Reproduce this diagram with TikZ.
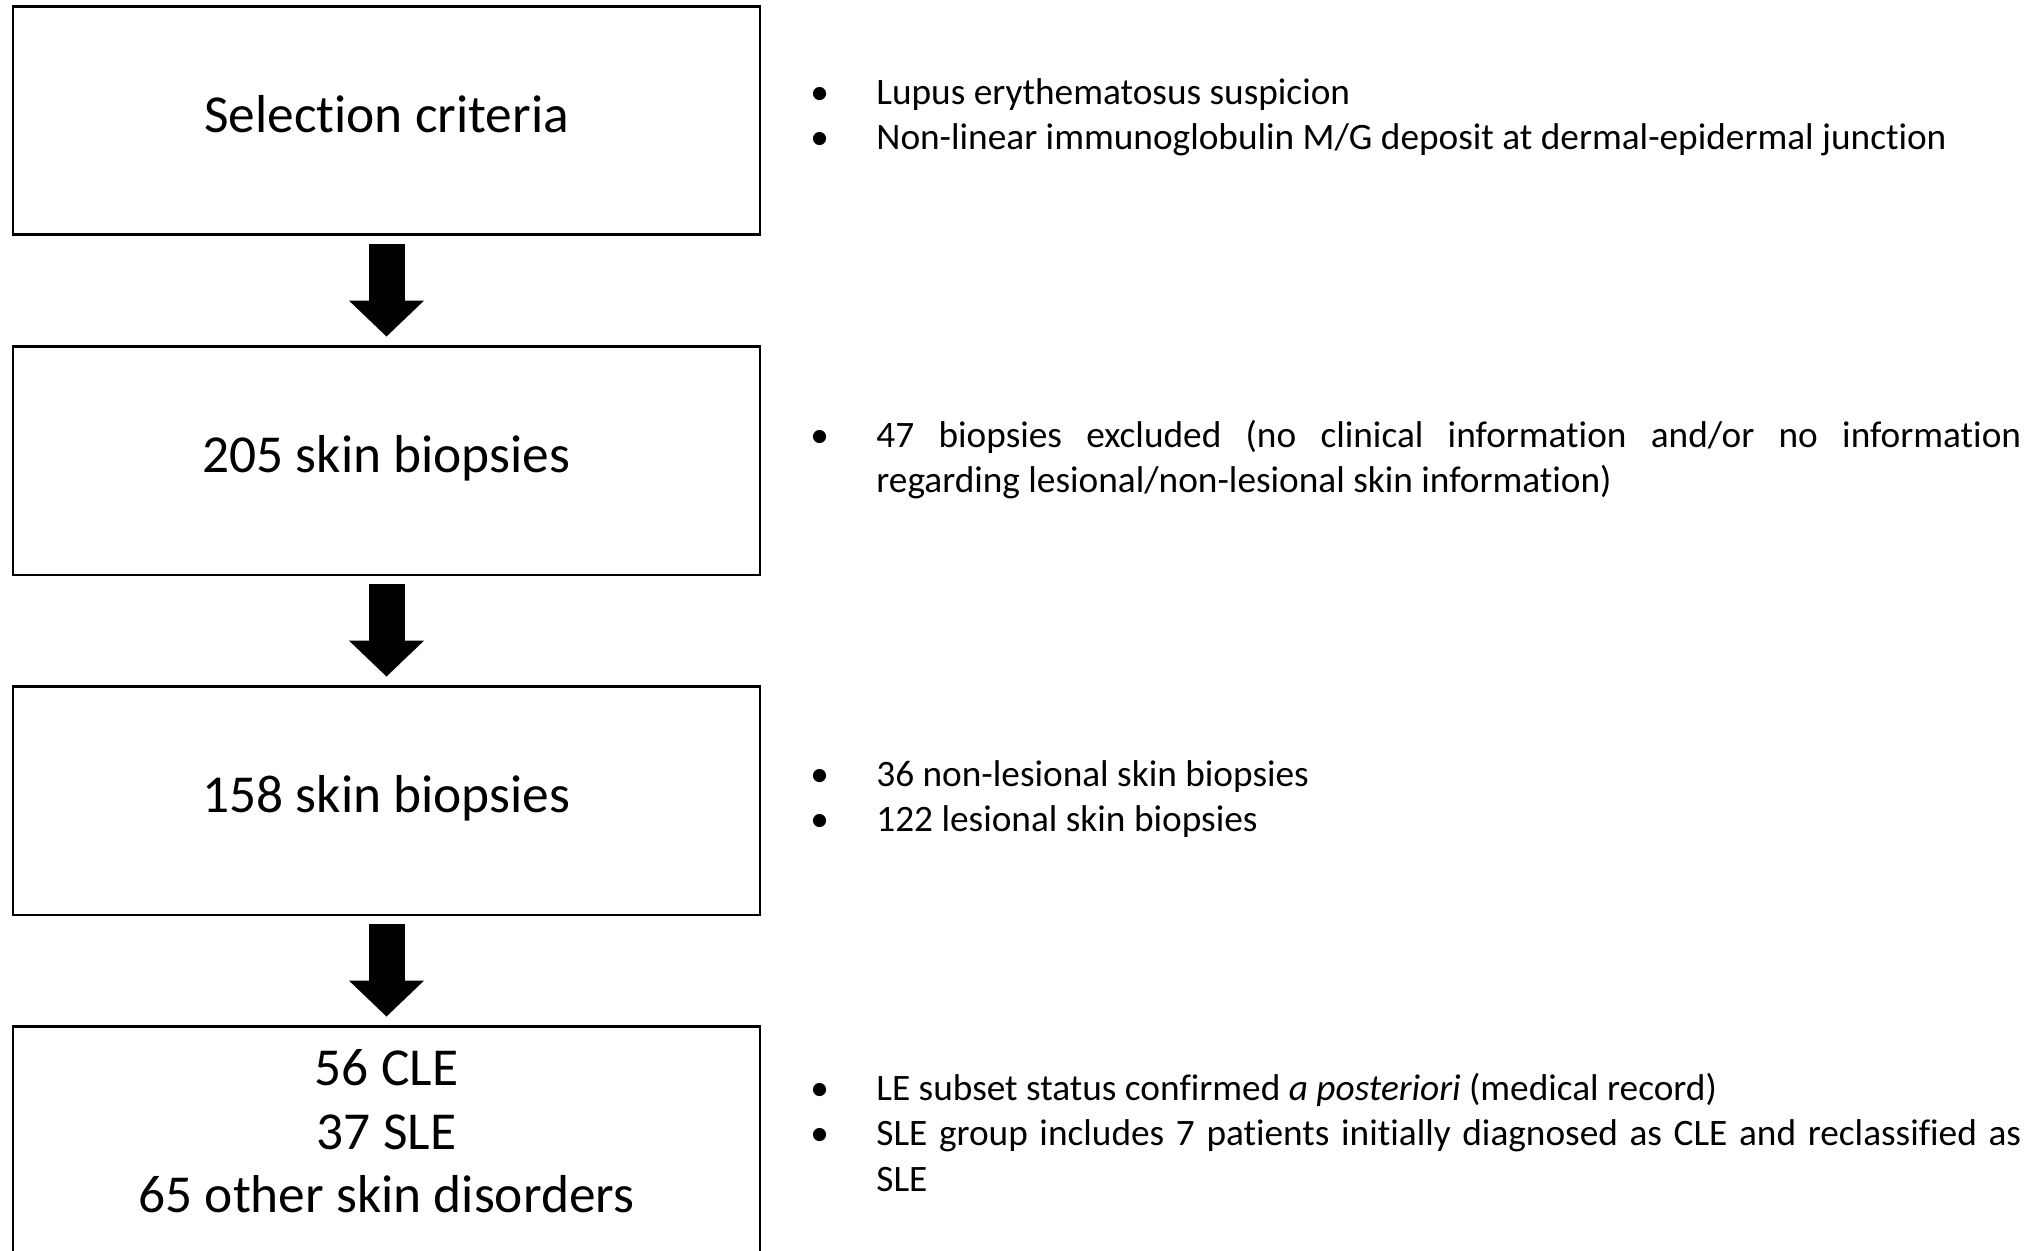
\documentclass[tikz,border=0pt]{standalone}
\usepackage{fontspec}
\setmainfont{Carlito}[Ligatures=NoCommon]
\usepackage{enumitem}
\usetikzlibrary{arrows.meta}

\tikzset{
  box/.style={draw, line width=1.4pt, fill=white, minimum width=373.5pt, minimum height=114.25pt,
    inner sep=0pt, align=center, font=\fontsize{26.7pt}{31.8pt}\selectfont},
  note/.style={anchor=west, inner sep=0pt, text width=605.5pt, align=justify,
    font=\fontsize{18.65pt}{22.7pt}\selectfont},
  fatarrow/.style={line width=18pt, -{Triangle[width=36.5pt, length=18pt]},
    shorten <=4pt, shorten >=4.25pt}
}
\newcommand{\notelist}[1]{\hyphenpenalty=10000\exhyphenpenalty=10000
  \begin{itemize}[leftmargin=33pt, labelsep=0pt, labelwidth=33pt, align=left,
    label=\textbullet, topsep=0pt, partopsep=0pt, itemsep=0pt, parsep=0pt]#1\end{itemize}}

\begin{document}
\begin{tikzpicture}[x=0.5pt,y=0.5pt,yscale=-1,xscale=1]
\useasboundingbox (0,0) rectangle (2035,1251);
\clip (0,0) rectangle (2035,1251);

% Boxes
\node[box, text height=18pt, text depth=6pt] (sel) at (386.5,120.5) {Selection criteria};
\node[box, text height=18pt, text depth=6pt] (bx205) at (386.5,460.75) {205 skin biopsies};
\node[box, text height=18pt, text depth=6pt] (bx158) at (386.5,800.75) {158 skin biopsies};
\node[box, text depth=9.4pt] (groups) at (386.5,1140.75) {56 CLE\\37 SLE\\65 other skin disorders};

% Arrows
\draw[fatarrow] (sel) -- (bx205);
\draw[fatarrow] (bx205) -- (bx158);
\draw[fatarrow] (bx158) -- (groups);

% Notes
\node[note] (notesel) at (810,107.8) {\notelist{
  \item Lupus erythematosus suspicion
  \item Non-linear immunoglobulin M/G deposit at dermal-epidermal junction}};
\node[note] (note205) at (810,450.5) {\notelist{
  \item 47 biopsies excluded (no clinical information and/or no information\linebreak
  regarding lesional/non-lesional skin information)}};
\node[note] (note158) at (810,789.5) {\notelist{
  \item 36 non-lesional skin biopsies
  \item 122 lesional skin biopsies}};
\node[note] (notegroups) at (810,1123.4) {\notelist{
  \item LE subset status confirmed \textit{a posteriori} (medical record)
  \item SLE group includes 7 patients initially diagnosed as CLE and reclassified as\linebreak
  SLE}};

\end{tikzpicture}
\end{document}
